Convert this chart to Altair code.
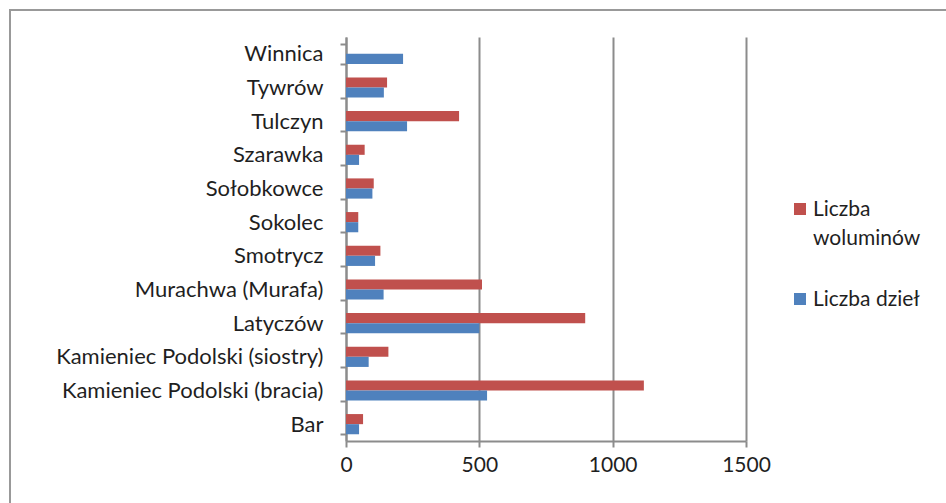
import altair as alt
import pandas as pd

categories = ["Winnica", "Tywrów", "Tulczyn", "Szarawka", "Sołobkowce", "Sokolec",
              "Smotrycz", "Murachwa (Murafa)", "Latyczów",
              "Kamieniec Podolski (siostry)", "Kamieniec Podolski (bracia)", "Bar"]
woluminy = [None, 154, 424, 70, 104, 46, 129, 510, 897, 159, 1117, 64]
dziela = [214, 142, 229, 49, 99, 46, 109, 141, 500, 85, 529, 49]
series = ["Liczba woluminów", "Liczba dzieł"]
legend_lines = [["Liczba", "woluminów"], ["Liczba dzieł"]]
colors = ["#C0504D", "#4F81BD"]
x_ticks = [0, 500, 1000, 1500]

rows = []
for c, w, d in zip(categories, woluminy, dziela):
    if w is not None:
        rows.append({"miejsce": c, "seria": series[0], "wartosc": w})
    if d is not None:
        rows.append({"miejsce": c, "seria": series[1], "wartosc": d})
df = pd.DataFrame(rows)

FONT = "Lato"
TXT = "#1f1f1f"
GRID = "#8c8c8c"

bars = alt.Chart(df).mark_bar(stroke=None).encode(
    x=alt.X("wartosc:Q",
            scale=alt.Scale(domain=[0, 1500], nice=False),
            axis=alt.Axis(values=x_ticks, format="d", title=None, grid=True, gridColor=GRID,
                          gridWidth=2, domainColor=GRID, domainWidth=2, tickColor=GRID,
                          tickWidth=2, tickSize=6, labelPadding=7, labelFontSize=21,
                          labelFont=FONT, labelColor=TXT, labelFlush=False)),
    y=alt.Y("miejsce:N", sort=categories,
            scale=alt.Scale(paddingInner=0.4, paddingOuter=0.2),
            axis=alt.Axis(title=None, domainColor=GRID, domainWidth=2, tickColor=GRID,
                          tickWidth=2, tickSize=6, tickBand="extent", labelPadding=17,
                          labelFontSize=22, labelFont=FONT, labelColor=TXT,
                          labelLimit=400)),
    yOffset=alt.YOffset("seria:N", sort=series),
    color=alt.Color("seria:N", sort=series,
                    scale=alt.Scale(domain=series, range=colors), legend=None),
)

# legend (decoration) built from the series lists
legend_layers = []
sym_y = [172, 262]
for name, lines, col, sy in zip(series, legend_lines, colors, sym_y):
    ld = pd.DataFrame({"seria": [name]})
    legend_layers.append(
        alt.Chart(ld).mark_square(size=144, color=col, opacity=1).encode(
            x=alt.value(454), y=alt.value(sy))
    )
    legend_layers.append(
        alt.Chart(ld).mark_text(text=lines, align="left", baseline="alphabetic",
                                font=FONT, fontSize=21, color=TXT, lineHeight=29).encode(
            x=alt.value(467), y=alt.value(sy + 7))
    )

frame = alt.Chart(pd.DataFrame({"a": [0]})).mark_rect(
    fill=None, stroke="#999999", strokeWidth=2
).encode(x=alt.value(-336), x2=alt.value(640), y=alt.value(-27), y2=alt.value(500))

chart = alt.layer(frame, bars, *legend_layers).properties(
    width=400, height=404,
    padding={"left": 346, "top": 37, "right": 200, "bottom": 62},
    autosize=alt.AutoSizeParams(type="none"),
    background="white",
).configure_view(stroke=None)

chart.save("out.html", embed_options={"renderer": "svg", "actions": False})
